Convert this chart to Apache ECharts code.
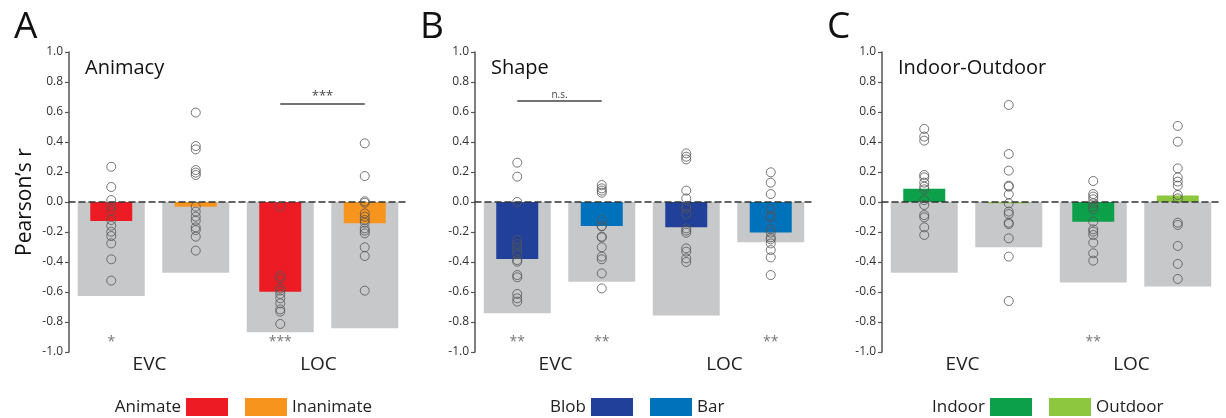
<!DOCTYPE html>
<html>
<head>
<meta charset="utf-8">
<script src="https://cdn.jsdelivr.net/npm/echarts@6/dist/echarts.min.js"></script>
<style>html,body{margin:0;padding:0;background:#fff}#c{width:1226px;height:418px}</style>
</head>
<body>
<div id="c"></div>
<script>
// ---------- data ----------
const regions = ['EVC', 'LOC'];
const slots = ['EVC-1', 'EVC-2', 'LOC-1', 'LOC-2'];
const yTicks = [-1.0, -0.8, -0.6, -0.4, -0.2, 0.0, 0.2, 0.4, 0.6, 0.8, 1.0];

// Panel A: Animacy
const animacyCeiling = [-0.627, -0.471, -0.869, -0.842];
const animateMean = [-0.127, '-', -0.598, '-'];
const inanimateMean = ['-', -0.031, '-', -0.142];
const animateEVC = [0.235, 0.10, 0.013, -0.027, -0.058, -0.12, -0.158, -0.198, -0.227, -0.276, -0.382, -0.524];
const inanimateEVC = [0.596, 0.373, 0.351, 0.213, 0.196, 0.18, -0.031, -0.064, -0.098, -0.124, -0.169, -0.187, -0.231, -0.324];
const animateLOC = [-0.031, -0.493, -0.509, -0.576, -0.591, -0.613, -0.642, -0.676, -0.716, -0.731, -0.813];
const inanimateLOC = [0.391, 0.173, 0.005, -0.005, -0.076, -0.098, -0.12, -0.138, -0.176, -0.191, -0.209, -0.302, -0.36, -0.591];
const animacySig = ['*', '', '***', ''];
const animacyBracket = { from: 2, to: 3, y: 0.653, text: '***' };

// Panel B: Shape
const shapeCeiling = [-0.742, -0.531, -0.756, -0.269];
const blobMean = [-0.38, '-', -0.169, '-'];
const barMean = ['-', -0.16, '-', -0.204];
const blobEVC = [0.262, 0.169, 0.0, -0.253, -0.28, -0.302, -0.324, -0.347, -0.387, -0.398, -0.487, -0.502, -0.613, -0.642, -0.664];
const barEVC = [0.113, 0.091, 0.076, 0.062, -0.12, -0.16, -0.162, -0.231, -0.236, -0.302, -0.364, -0.382, -0.476, -0.576];
const blobLOC = [0.324, 0.302, 0.284, 0.076, 0.024, -0.031, -0.045, -0.08, -0.176, -0.191, -0.205, -0.309, -0.331, -0.376, -0.40];
const barLOC = [0.198, 0.129, 0.053, -0.049, -0.093, -0.102, -0.182, -0.204, -0.236, -0.249, -0.276, -0.32, -0.369, -0.487];
const shapeSig = ['**', '**', '', '**'];
const shapeBracket = { from: 0, to: 1, y: 0.673, text: 'n.s.' };

// Panel C: Indoor-Outdoor
const sceneCeiling = [-0.471, -0.302, -0.536, -0.564];
const indoorMean = [0.089, '-', -0.131, '-'];
const outdoorMean = ['-', -0.009, '-', 0.044];
const indoorEVC = [0.487, 0.436, 0.409, 0.18, 0.164, 0.129, 0.102, 0.084, 0.013, -0.02, -0.087, -0.102, -0.169, -0.22];
const outdoorEVC = [0.647, 0.32, 0.209, 0.109, 0.102, 0.051, -0.009, -0.064, -0.08, -0.138, -0.147, -0.242, -0.364, -0.66];
const indoorLOC = [0.14, 0.053, 0.036, 0.018, -0.009, -0.031, -0.05, -0.131, -0.182, -0.198, -0.22, -0.271, -0.342, -0.391];
const outdoorLOC = [0.507, 0.402, 0.224, 0.164, 0.136, 0.109, 0.047, 0.024, -0.138, -0.153, -0.293, -0.413, -0.513];
const sceneSig = ['', '', '**', ''];
const sigLevel = -0.935;

// ---------- layout / style ----------
const FONT = 'Open Sans';
const panels = [
  { letter: 'A', title: 'Animacy', left: 69, ceiling: animacyCeiling,
    means: [['Animate', animateMean, '#ed1c24'], ['Inanimate', inanimateMean, '#f7941d']],
    points: [animateEVC, inanimateEVC, animateLOC, inanimateLOC], sig: animacySig, bracket: animacyBracket,
    legendRight: 998, legendLeft: 245, yName: 'Pearson\u2019s r' },
  { letter: 'B', title: 'Shape', left: 475, ceiling: shapeCeiling,
    means: [['Blob', blobMean, '#21409a'], ['Bar', barMean, '#0072bc']],
    points: [blobEVC, barEVC, blobLOC, barLOC], sig: shapeSig, bracket: shapeBracket,
    legendRight: 593, legendLeft: 650 },
  { letter: 'C', title: 'Indoor-Outdoor', left: 882, ceiling: sceneCeiling,
    means: [['Indoor', indoorMean, '#0da04a'], ['Outdoor', outdoorMean, '#8dc63f']],
    points: [indoorEVC, outdoorEVC, indoorLOC, outdoorLOC], sig: sceneSig, bracket: null,
    legendRight: 194, legendLeft: 1049 }
];

const grid = [], xAxis = [], yAxis = [], series = [], title = [], legend = [];
panels.forEach((p, i) => {
  grid.push({ left: p.left, top: 52, width: 338, height: 300 });
  title.push({ text: p.letter, left: p.left - 60, top: 4,
    textStyle: { fontFamily: FONT, fontSize: 37, fontWeight: 'normal', color: '#111' } });
  title.push({ text: p.title, left: p.left + 11, top: 53,
    textStyle: { fontFamily: FONT, fontSize: 20, fontWeight: 'normal', color: '#111' } });
  const base = i * 3;
  xAxis.push({ type: 'category', gridIndex: i, data: slots, z: 6,
    axisLine: { onZero: true, lineStyle: { color: '#333', width: 1.5, type: [6, 4] } },
    axisTick: { show: false }, axisLabel: { show: false } });
  xAxis.push({ type: 'category', gridIndex: i, data: regions, position: 'bottom',
    axisLine: { show: false, onZero: false }, axisTick: { show: false },
    axisLabel: { fontFamily: FONT, fontSize: 19, color: '#222', margin: 3, padding: [0, 8, 0, 0] } });
  xAxis.push({ type: 'category', gridIndex: i, data: slots, show: false });
  yAxis.push({ type: 'value', gridIndex: i, min: -1, max: 1, interval: 0.2,
    name: p.yName || '', nameLocation: 'middle', nameGap: 33, nameRotate: 90,
    nameTextStyle: { fontFamily: FONT, fontSize: 21, color: '#111' },
    axisLine: { show: true, lineStyle: { color: '#555', width: 1.5 } },
    axisTick: { show: true, length: 4, lineStyle: { color: '#555', width: 1.2 } },
    splitLine: { show: false },
    axisLabel: { fontFamily: FONT, fontSize: 12, color: '#333', margin: 6,
      formatter: v => v.toFixed(1) } });

  const gray = { type: 'bar', name: 'ceiling' + i, xAxisIndex: base, yAxisIndex: i,
    data: p.ceiling, barWidth: 67, itemStyle: { color: '#c7c8ca' }, z: 2, silent: true };
  if (p.bracket) {
    gray.markLine = { symbol: 'none', silent: true,
      lineStyle: { color: '#444', width: 1.5, type: 'solid' },
      label: { show: true, position: 'insideMiddleTop', formatter: p.bracket.text,
        fontFamily: FONT, fontSize: p.bracket.text === 'n.s.' ? 10 : 13, color: '#444', distance: 1 },
      data: [[{ coord: [p.bracket.from, p.bracket.y] }, { coord: [p.bracket.to, p.bracket.y] }]] };
  }
  series.push(gray);
  p.means.forEach(([name, vals, color]) => {
    series.push({ type: 'bar', name, xAxisIndex: base + 2, yAxisIndex: i, data: vals,
      barWidth: 42, barGap: '-100%', itemStyle: { color }, z: 3 });
  });
  const pts = [];
  p.points.forEach((arr, s) => arr.forEach(v => pts.push([s, v])));
  series.push({ type: 'scatter', xAxisIndex: base, yAxisIndex: i, data: pts, symbol: 'circle',
    symbolSize: 9, z: 7, silent: true,
    itemStyle: { color: 'rgba(0,0,0,0)', borderColor: '#555', borderWidth: 1 } });
  series.push({ type: 'scatter', xAxisIndex: base, yAxisIndex: i, symbolSize: 1, silent: true,
    data: p.sig.map((t, s) => [s, sigLevel, t]).filter(d => d[2]),
    itemStyle: { color: 'rgba(0,0,0,0)' },
    label: { show: true, position: 'inside', formatter: d => d.data[2],
      fontFamily: FONT, fontSize: 14, color: '#555' } });

  legend.push({ data: [{ name: p.means[0][0], icon: 'rect' }], right: p.legendRight, top: 398, padding: 0, align: 'right',
    itemWidth: 42, itemHeight: 18, itemStyle: { borderWidth: 0 }, selectedMode: false,
    textStyle: { fontFamily: FONT, fontSize: 17, color: '#222' } });
  legend.push({ data: [{ name: p.means[1][0], icon: 'rect' }], left: p.legendLeft, top: 398, padding: 0, align: 'left',
    itemWidth: 42, itemHeight: 18, itemStyle: { borderWidth: 0 }, selectedMode: false,
    textStyle: { fontFamily: FONT, fontSize: 17, color: '#222' } });
});

const chart = echarts.init(document.getElementById('c'), null, { renderer: 'canvas' });
chart.setOption({ animation: false, backgroundColor: '#fff', title, grid, xAxis, yAxis, legend, series });
</script>
</body>
</html>
